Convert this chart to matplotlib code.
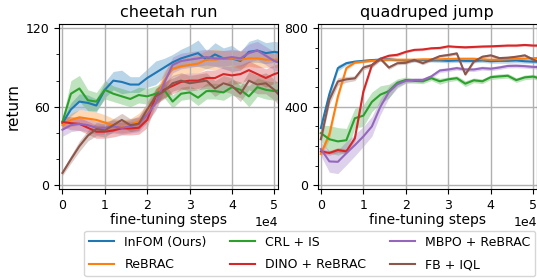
import numpy as np
import matplotlib
matplotlib.use("Agg")
import matplotlib.pyplot as plt
from matplotlib.ticker import MultipleLocator

# fine-tuning steps (evaluation points)
steps = np.array([0, 2000, 4000, 6000, 8000, 10000, 12000, 14000, 16000, 18000,
                  20000, 22000, 24000, 26000, 28000, 30000, 32000, 34000, 36000,
                  38000, 40000, 42000, 44000, 46000, 48000, 50000, 52000])

methods = ["InFOM (Ours)", "ReBRAC", "CRL + IS", "DINO + ReBRAC", "MBPO + ReBRAC", "FB + IQL"]
colors = ["tab:blue", "tab:orange", "tab:green", "tab:red", "tab:purple", "tab:brown"]

# cheetah run: means
cheetah_infom = [47.5, 58, 64, 63, 61, 73, 80, 79, 77, 77, 82, 86, 90, 94, 97, 99, 101, 96, 100, 97, 97, 95, 102, 103, 101, 102, 101]
cheetah_rebrac = [46, 50, 52, 51, 50, 48, 46, 45, 46, 49, 55, 65, 80, 89, 91, 92, 93, 96, 96, 97, 97, 96, 97, 97, 96, 96, 96]
cheetah_crl = [48.5, 70, 74, 65, 64, 73, 70, 68, 66, 69, 68, 70, 73, 64, 70, 71, 67, 72, 72, 71, 75, 73, 68, 75, 73, 72, 73]
cheetah_dino = [48.5, 47.5, 47, 44, 41, 41, 42, 43.5, 43.5, 44, 50, 68, 73, 76, 79, 80, 80, 82, 82, 85, 84, 85, 88, 85, 82, 85, 87]
cheetah_mbpo = [42.5, 46, 47, 46, 44, 44, 45, 44, 45, 47, 54, 63, 78, 92, 95, 96, 97, 98, 97, 97, 98, 97, 101, 103, 99, 95, 93]
cheetah_fb = [9.5, 20, 30, 38, 43, 42, 46, 50, 46, 47, 58, 68, 72, 78, 80, 78, 79, 80, 74, 78, 76, 70, 80, 77, 78, 73, 66]

# cheetah run: spread
cheetah_infom_sd = [3, 5, 6, 6, 5, 6, 7, 9, 6, 6, 7, 9, 7, 6, 7, 8, 10, 7, 9, 8, 10, 7, 8, 9, 8, 8, 8]
cheetah_rebrac_sd = [3, 5, 6, 6, 6, 6, 5, 5, 5, 6, 7, 7, 7, 6, 6, 6, 7, 7, 8, 6, 6, 7, 6, 7, 6, 6, 6]
cheetah_crl_sd = [3, 10, 10, 8, 7, 7, 6, 6, 6, 6, 6, 6, 6, 5, 5, 5, 6, 6, 6, 6, 6, 6, 8, 7, 7, 7, 7]
cheetah_dino_sd = [4, 5, 5, 5, 5, 5, 5, 5, 5, 5, 6, 6, 6, 6, 6, 6, 6, 6, 6, 6, 7, 7, 7, 7, 7, 7, 7]
cheetah_mbpo_sd = [5, 5, 5, 5, 5, 5, 5, 5, 5, 6, 6, 6, 7, 6, 6, 6, 6, 6, 6, 6, 6, 6, 7, 7, 7, 7, 7]
cheetah_fb_sd = [2, 3, 4, 4, 5, 5, 5, 5, 5, 5, 6, 6, 6, 6, 6, 6, 6, 6, 6, 6, 6, 6, 7, 7, 8, 8, 8]

# quadruped jump: means
quad_infom = [292, 465, 597, 622, 630, 634, 638, 640, 642, 638, 636, 636, 638, 636, 636, 634, 636, 634, 634, 636, 632, 634, 634, 636, 632, 630, 630]
quad_rebrac = [160, 260, 452, 597, 625, 630, 634, 638, 640, 640, 640, 640, 642, 642, 642, 644, 645, 645, 645, 642, 640, 640, 642, 644, 645, 648, 648]
quad_crl = [266, 235, 224, 230, 342, 355, 425, 462, 480, 522, 537, 532, 530, 546, 530, 540, 546, 518, 535, 530, 551, 555, 558, 536, 550, 554, 541]
quad_dino = [173, 165, 180, 173, 240, 478, 612, 645, 660, 665, 680, 690, 692, 698, 700, 708, 705, 703, 705, 707, 708, 710, 712, 712, 715, 712, 712]
quad_mbpo = [185, 122, 120, 164, 205, 249, 300, 400, 475, 515, 532, 537, 537, 555, 585, 590, 597, 590, 590, 597, 594, 600, 608, 609, 607, 603, 602]
quad_fb = [235, 436, 529, 540, 545, 600, 612, 645, 600, 622, 624, 639, 622, 640, 658, 664, 672, 565, 630, 655, 662, 648, 650, 655, 662, 640, 625]

# quadruped jump: spread
quad_infom_sd = [25, 25, 15, 10, 8, 8, 8, 8, 8, 8, 8, 8, 8, 8, 10, 10, 10, 10, 10, 10, 10, 12, 12, 12, 10, 10, 10]
quad_rebrac_sd = [20, 25, 20, 10, 6, 6, 5, 5, 5, 5, 5, 5, 5, 5, 5, 5, 5, 5, 5, 5, 5, 5, 5, 5, 5, 5, 5]
quad_crl_sd = [40, 70, 70, 60, 50, 55, 50, 45, 35, 20, 15, 12, 12, 12, 15, 12, 12, 15, 12, 12, 12, 12, 12, 12, 12, 12, 12]
quad_dino_sd = [12, 12, 12, 12, 15, 15, 12, 8, 8, 8, 6, 6, 6, 6, 6, 6, 6, 6, 6, 6, 6, 6, 6, 6, 6, 6, 6]
quad_mbpo_sd = [35, 55, 60, 60, 55, 50, 50, 40, 30, 20, 12, 10, 10, 10, 10, 10, 10, 10, 10, 10, 10, 10, 10, 10, 10, 10, 10]
quad_fb_sd = [20, 25, 20, 15, 12, 12, 10, 10, 10, 8, 8, 8, 8, 8, 8, 8, 8, 8, 8, 8, 8, 8, 8, 8, 8, 8, 8]

cheetah = [cheetah_infom, cheetah_rebrac, cheetah_crl, cheetah_dino, cheetah_mbpo, cheetah_fb]
cheetah_sd = [cheetah_infom_sd, cheetah_rebrac_sd, cheetah_crl_sd, cheetah_dino_sd, cheetah_mbpo_sd, cheetah_fb_sd]
quad = [quad_infom, quad_rebrac, quad_crl, quad_dino, quad_mbpo, quad_fb]
quad_sd = [quad_infom_sd, quad_rebrac_sd, quad_crl_sd, quad_dino_sd, quad_mbpo_sd, quad_fb_sd]

fig = plt.figure(figsize=(5.37, 2.78), dpi=100)
ax1 = fig.add_axes([0.1104, 0.319, 0.4067, 0.5935])
ax2 = fig.add_axes([0.5916, 0.319, 0.4078, 0.5935])

panels = [
    (ax1, cheetah, cheetah_sd, "cheetah run", (-3, 123), 60, 20),
    (ax2, quad, quad_sd, "quadruped jump", (-20, 820), 400, 100),
]

for ax, means, sds, title, ylim, major, minor in panels:
    for m, s, c, name in zip(means, sds, colors, methods):
        m = np.array(m, dtype=float)
        s = np.array(s, dtype=float)
        ax.fill_between(steps, m - s, m + s, color=c, alpha=0.3, linewidth=0)
        ax.plot(steps, m, color=c, linewidth=1.5, label=name)
    ax.set_title(title, fontsize=11.5, pad=5)
    ax.set_xlim(-750, 50800)
    ax.set_ylim(*ylim)
    ax.yaxis.set_major_locator(MultipleLocator(major))
    ax.yaxis.set_minor_locator(MultipleLocator(minor))
    ax.xaxis.set_major_locator(MultipleLocator(10000))
    ax.ticklabel_format(axis="x", style="sci", scilimits=(0, 0))
    ax.xaxis.get_offset_text().set_fontsize(9)
    ax.tick_params(labelsize=9)
    ax.grid(True, color="#b0b0b0", linewidth=1.0)
    ax.set_xlabel("fine-tuning steps", fontsize=10, labelpad=1)

ax1.set_ylabel("return", fontsize=11)

handles, labels = ax1.get_legend_handles_labels()
fig.legend(handles, labels, loc="lower center", bbox_to_anchor=(0.577, 0.0), ncol=3,
           fontsize=9, frameon=True, handlelength=2.0, columnspacing=1.9,
           labelspacing=0.75, borderaxespad=0.15)

fig.savefig("out.png", dpi=100)
